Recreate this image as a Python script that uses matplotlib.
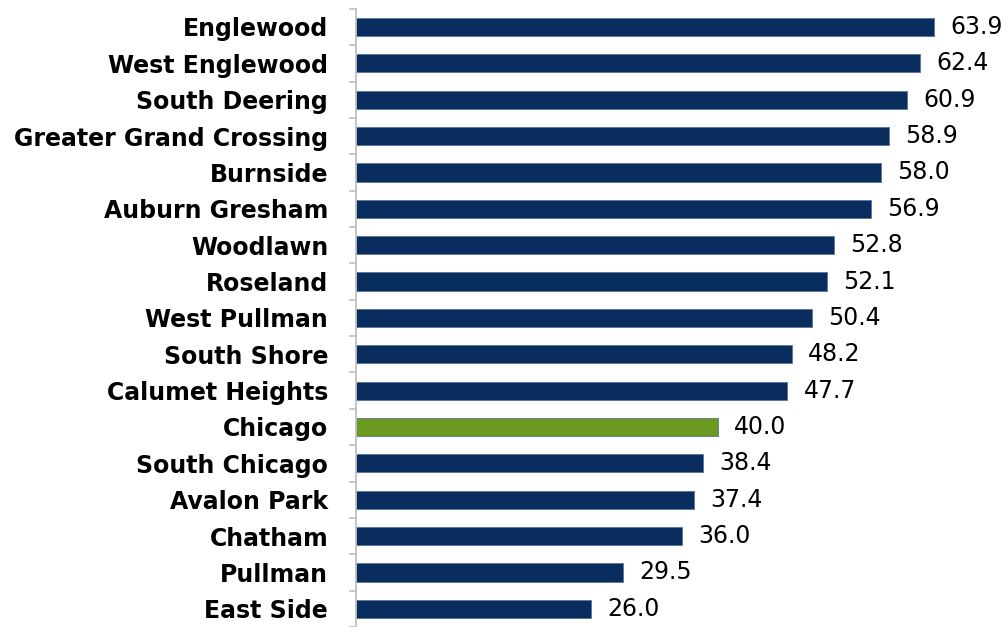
import numpy as np
import matplotlib.pyplot as plt

## data
areas = ['Englewood', 'West Englewood', 'South Deering', 'Greater Grand Crossing',
         'Burnside', 'Auburn Gresham', 'Woodlawn', 'Roseland', 'West Pullman',
         'South Shore', 'Calumet Heights', 'Chicago', 'South Chicago',
         'Avalon Park', 'Chatham', 'Pullman', 'East Side']
values = [63.9, 62.4, 60.9, 58.9, 58.0, 56.9, 52.8, 52.1, 50.4,
          48.2, 47.7, 40.0, 38.4, 37.4, 36.0, 29.5, 26.0]
highlight = 'Chicago'

navy = '#082d5e'
green = '#6b9a1f'
colors = [green if a == highlight else navy for a in areas]

fig = plt.figure(figsize=(10.06, 6.27), dpi=100)
ax = fig.add_axes([356/1006, 0.0, 644/1006, (627-8.8)/627])

ys = np.arange(len(areas))
ax.barh(ys, values, height=0.5, color=colors, edgecolor='#5a7398', linewidth=0.6)

for y, v in zip(ys, values):
    ax.text(v + 1.8, y, '{:.1f}'.format(v), va='center', ha='left',
            fontsize=17, color='black')

ax.set_xlim(0, 71.2)
ax.set_ylim(len(areas) - 0.5, -0.5)

ax.set_yticks(ys)
ax.set_yticklabels(areas, fontsize=17, fontweight='bold', color='black')
ax.set_yticks(np.arange(len(areas) + 1) - 0.5, minor=True)
ax.tick_params(axis='y', which='major', length=0, pad=20)
ax.tick_params(axis='y', which='minor', length=5, width=1.2, color='#bfbfbf')
ax.set_xticks([])

for s in ['top', 'right', 'bottom']:
    ax.spines[s].set_visible(False)
ax.spines['left'].set_color('#bfbfbf')
ax.spines['left'].set_linewidth(1.3)

fig.savefig('out.png', dpi=100)
